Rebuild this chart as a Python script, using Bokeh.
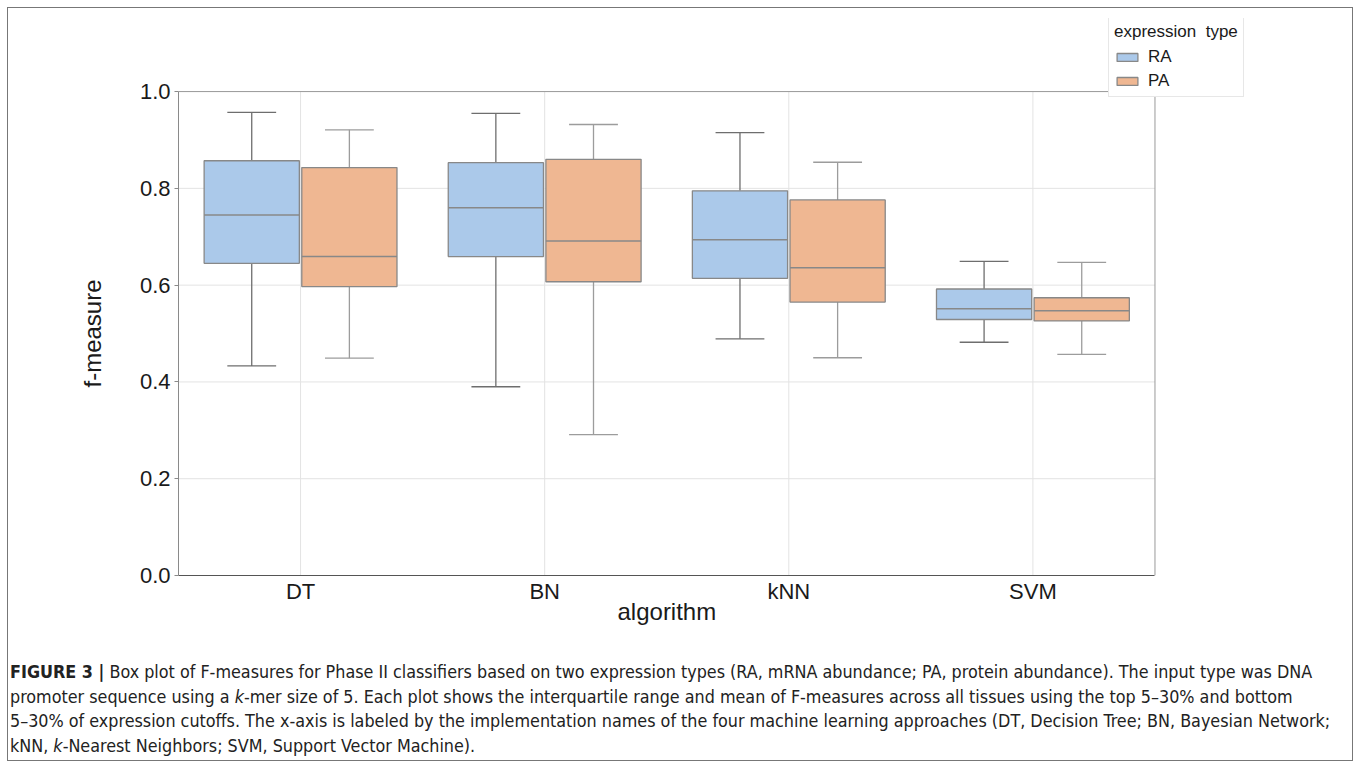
from bokeh.plotting import figure
from bokeh.models import Range1d, Legend, LegendItem, Div, FixedTicker, ColumnDataSource, CustomJSTickFormatter, Title
from bokeh.layouts import column
from bokeh.embed import file_html
from bokeh.resources import INLINE

algorithms = ["DT", "BN", "kNN", "SVM"]
series = ["RA", "PA"]

ra_lower = [0.433, 0.390, 0.489, 0.482]
ra_q1 = [0.645, 0.659, 0.614, 0.529]
ra_median = [0.745, 0.760, 0.694, 0.551]
ra_q3 = [0.857, 0.853, 0.795, 0.592]
ra_upper = [0.957, 0.955, 0.915, 0.649]

pa_lower = [0.449, 0.291, 0.450, 0.457]
pa_q1 = [0.597, 0.607, 0.565, 0.526]
pa_median = [0.659, 0.691, 0.636, 0.547]
pa_q3 = [0.843, 0.860, 0.776, 0.574]
pa_upper = [0.921, 0.932, 0.854, 0.647]

y_ticks = [0.0, 0.2, 0.4, 0.6, 0.8, 1.0]

FONT = "'Liberation Sans', Arial, sans-serif"

n = len(algorithms)
centers = [i + 0.5 for i in range(n)]
y_max = y_ticks[-1]

p = figure(
    width=1344, height=652,
    x_range=Range1d(0, 4.42), y_range=Range1d(0, 1.151),
    output_backend="svg", toolbar_location=None,
    min_border_left=170, min_border_right=95, min_border_top=10, min_border_bottom=85,
)
p.outline_line_color = None
p.background_fill_color = "white"
p.border_fill_color = "white"
p.grid.visible = False

p.xaxis.ticker = FixedTicker(ticks=centers)
p.xaxis.major_label_overrides = {c: a for c, a in zip(centers, algorithms)}
p.xaxis.bounds = (0, n)
p.yaxis.ticker = FixedTicker(ticks=y_ticks)
p.yaxis.formatter = CustomJSTickFormatter(code="return tick.toFixed(1);")
p.yaxis.bounds = (0, y_max)

for ax in (p.xaxis[0], p.yaxis[0]):
    ax.major_label_text_font = FONT
    ax.major_label_text_font_size = "22px"
    ax.major_label_text_color = "#1a1a1a"
    ax.minor_tick_line_color = None
    ax.major_tick_in = 0

p.xaxis.axis_line_color = "#555555"
p.xaxis.major_tick_line_color = None
p.xaxis.major_tick_out = 0
p.xaxis.major_label_standoff = 3
p.yaxis.axis_line_color = "#8a8a8a"
p.yaxis.major_tick_line_color = "#8a8a8a"
p.yaxis.major_tick_out = 4
p.yaxis.major_label_standoff = 4

# axis titles, centred on the data part of the frame (0..n, 0..y_max)
x_title = Title(text="algorithm", align="left", offset=439, standoff=-18, vertical_align="top",
                text_font=FONT, text_font_size="24px", text_font_style="normal", text_color="#1a1a1a")
p.add_layout(x_title, "below")
y_title = Title(text="f-measure", align="left", offset=188, standoff=62,
                text_font=FONT, text_font_size="24px", text_font_style="normal", text_color="#1a1a1a")
p.add_layout(y_title, "left")

# grid lines (limited to the data frame 0..n, 0..y_max)
grid_src_h = ColumnDataSource(dict(y=y_ticks[1:], x0=[0] * (len(y_ticks) - 1), x1=[n] * (len(y_ticks) - 1)))
p.segment(x0="x0", x1="x1", y0="y", y1="y", source=grid_src_h, line_color="#e3e3e3", line_width=1)
grid_src_v = ColumnDataSource(dict(x=centers, y0=[0] * n, y1=[y_max] * n))
p.segment(x0="x", x1="x", y0="y0", y1="y1", source=grid_src_v, line_color="#e3e3e3", line_width=1)
# frame outline (top and right)
p.segment(x0=[0, n], x1=[n, n], y0=[y_max, 0], y1=[y_max, y_max], line_color="#9a9a9a", line_width=1)

groups = [
    ("RA", -0.2, ra_lower, ra_q1, ra_median, ra_q3, ra_upper, "#abc9ea", "#6e6e6e"),
    ("PA", 0.2, pa_lower, pa_q1, pa_median, pa_q3, pa_upper, "#efb792", "#9c9c9c"),
]

legend_items = []
for name, off, lo, q1, med, q3, up, fill, wcol in groups:
    xc = [c + off for c in centers]
    src = ColumnDataSource(dict(
        x=xc, xl=[x - 0.1 for x in xc], xr=[x + 0.1 for x in xc],
        bl=[x - 0.195 for x in xc], br=[x + 0.195 for x in xc],
        lo=lo, q1=q1, med=med, q3=q3, up=up))
    p.segment(x0="x", x1="x", y0="up", y1="q3", source=src, line_color=wcol, line_width=1.3)
    p.segment(x0="x", x1="x", y0="lo", y1="q1", source=src, line_color=wcol, line_width=1.3)
    p.segment(x0="xl", x1="xr", y0="up", y1="up", source=src, line_color=wcol, line_width=1.3)
    p.segment(x0="xl", x1="xr", y0="lo", y1="lo", source=src, line_color=wcol, line_width=1.3)
    r = p.vbar(x="x", width=0.39, top="q3", bottom="q1", source=src,
               fill_color=fill, line_color="#888888", line_width=1.3)
    p.segment(x0="bl", x1="br", y0="med", y1="med", source=src, line_color="#888888", line_width=1.5)
    legend_items.append(LegendItem(label=name, renderers=[r]))

legend = Legend(
    items=legend_items, title="expression  type", location=(930, 478),
    title_text_font=FONT, title_text_font_size="17px", title_text_font_style="normal",
    title_text_color="#1a1a1a", title_standoff=5,
    label_text_font=FONT, label_text_font_size="17px", label_text_color="#1a1a1a",
    glyph_width=26, glyph_height=10, label_height=17, spacing=4, padding=5,
    border_line_color="#d0d0d0", border_line_width=1, background_fill_alpha=1,
    margin=0, label_standoff=8,
)
p.add_layout(legend, "center")

caption_html = (
    "<div style=\"font-family: 'Liberation Sans Narrow', 'Arial Narrow', 'DejaVu Sans Condensed', sans-serif; "
    "font-stretch: condensed; font-size: 17.8px; line-height: 24.5px; color: #222; padding-left: 2px; "
    "white-space: nowrap;\">"
    "<b>FIGURE 3 |</b> Box plot of F-measures for Phase II classifiers based on two expression types "
    "(RA, mRNA abundance; PA, protein abundance). The input type was DNA<br>"
    "promoter sequence using a <i>k</i>-mer size of 5. Each plot shows the interquartile range and mean of "
    "F-measures across all tissues using the top 5&ndash;30% and bottom<br>"
    "5&ndash;30% of expression cutoffs. The x-axis is labeled by the implementation names of the four machine "
    "learning approaches (DT, Decision Tree; BN, Bayesian Network;<br>"
    "kNN, <i>k</i>-Nearest Neighbors; SVM, Support Vector Machine)."
    "</div>"
)
cap = Div(text=caption_html, width=1344, height=100, margin=(0, 0, 0, 0))

layout = column(p, cap, spacing=0, margin=(7, 0, 0, 7), styles={"border": "1px solid #777"})

open("out.html", "w").write(file_html(layout, INLINE))
